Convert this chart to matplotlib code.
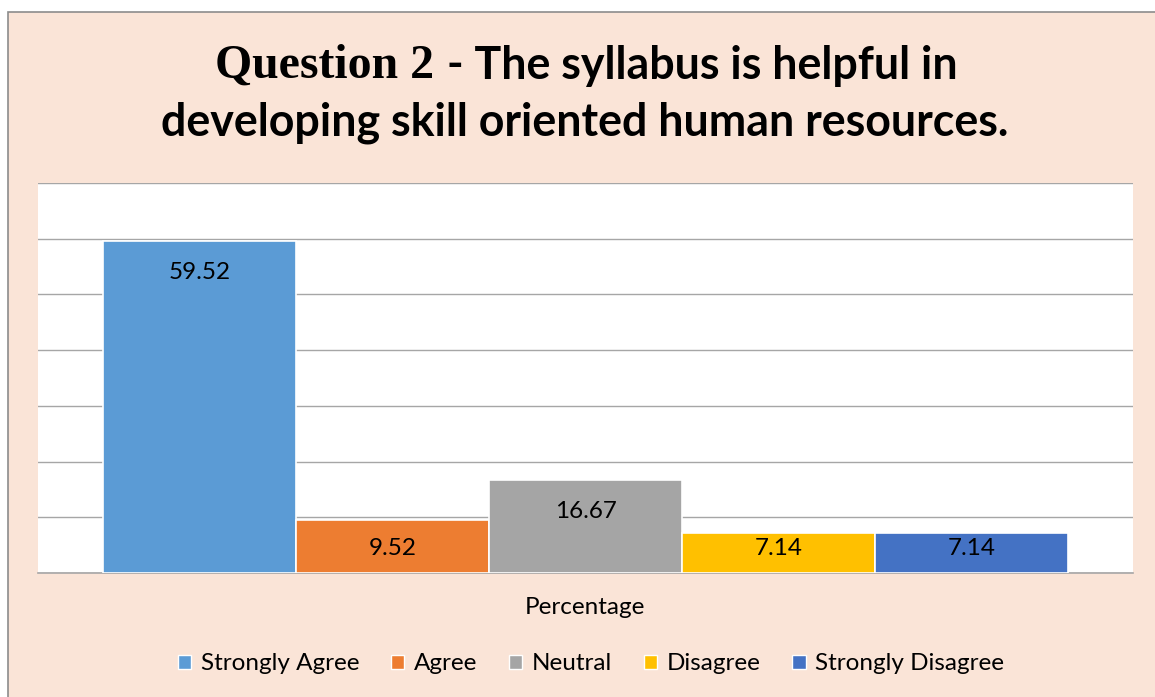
import matplotlib
matplotlib.use("Agg")
import matplotlib.pyplot as plt
from matplotlib.patches import Rectangle

categories = ["Strongly Agree", "Agree", "Neutral", "Disagree", "Strongly Disagree"]
values = [59.52, 9.52, 16.67, 7.14, 7.14]
colors = ["#5B9BD5", "#ED7D31", "#A5A5A5", "#FFC000", "#4472C4"]
x_label = "Percentage"
title_part1 = "Question 2"
title_part2 = "- The syllabus is helpful in"
title_line2 = "developing skill oriented human resources."

W, H = 1155, 697
fig = plt.figure(figsize=(W / 100, H / 100), dpi=100)
fig.patch.set_facecolor("white")
peach = "#FAE4D7"
fig.patches.append(Rectangle((8 / W, -0.01), 1.02, 1 - 12 / H + 0.01, transform=fig.transFigure,
                             facecolor=peach, edgecolor="#8C8C8C", linewidth=1.2, zorder=-10))

sans = "Lato"
fs = 17.5
ax = fig.add_axes([38 / W, 1 - 573 / H, 1095 / W, 390 / H])
ax.set_zorder(1)
ax.set_facecolor("white")
xs = list(range(len(values)))
bars = ax.bar(xs, values, width=1.0, color=colors, edgecolor="white", linewidth=1.2, zorder=3)
ax.set_xlim(-0.5 - 0.335, len(values) - 0.5 + 0.335)
ax.set_ylim(0, 70)
ax.set_yticks(range(0, 71, 10))
ax.yaxis.grid(True, color="#A6A6A6", linewidth=1.0, zorder=0)
ax.tick_params(left=False, labelleft=False, bottom=False, labelbottom=False)
for s in ["left", "right", "top"]:
    ax.spines[s].set_visible(False)
ax.spines["bottom"].set_color("#A6A6A6")
ax.spines["bottom"].set_linewidth(1.2)

# inside-end labels, kept inside short bars
for b, v in zip(bars, values):
    ax.text(b.get_x() + b.get_width() / 2, max(v - 5.6, 4.4), f"{v:.2f}",
            ha="center", va="center", fontsize=fs, family=sans, color="black", zorder=4)

fig.text(585 / W, 1 - 608 / H, x_label, ha="center", va="center", fontsize=fs, family=sans)

handles = [Rectangle((0, 0), 1, 1, facecolor=c, edgecolor="white", linewidth=1) for c in colors]
leg = fig.legend(handles, categories, loc="center", bbox_to_anchor=(591 / W, 1 - 664 / H), ncol=5,
                 frameon=False, handlelength=0.55, handleheight=0.55, handletextpad=0.4,
                 columnspacing=1.3, prop={"family": sans, "size": fs})

fig.text(215 / W, 1 - 66 / H, title_part1, ha="left", va="center", fontsize=34.4,
         family="Liberation Serif", weight="bold")
fig.text(447 / W, 1 - 66 / H, title_part2, ha="left", va="center", fontsize=32.2,
         family=sans, weight="bold")
fig.text(585 / W, 1 - 123 / H, title_line2, ha="center", va="center", fontsize=32.2,
         family=sans, weight="bold")

fig.savefig("out.png", dpi=100, facecolor=fig.get_facecolor())
